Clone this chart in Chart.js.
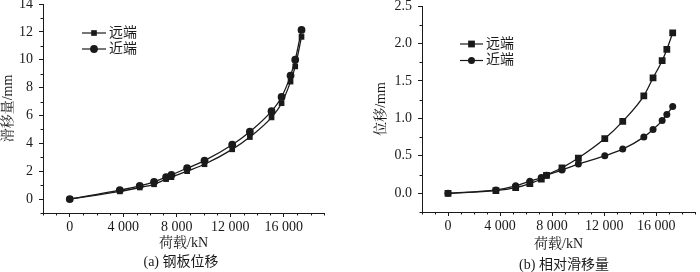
<!DOCTYPE html>
<html>
<head>
<meta charset="utf-8">
<script src="https://cdn.jsdelivr.net/npm/chart.js@4/dist/chart.umd.min.js"></script>
<style>
  html, body { margin: 0; padding: 0; background: #fff; }
  #wrap { position: relative; width: 700px; height: 272px; }
  canvas { position: absolute; top: 0; }
  #chartA { left: 0; }
  #chartB { left: 350px; }
</style>
</head>
<body>
<div id="wrap">
  <canvas id="chartA" width="350" height="272"></canvas>
  <canvas id="chartB" width="350" height="272"></canvas>
</div>
<script>
// (a) 钢板位移
const loadA = [0, 3740, 5230, 6300, 7200, 7600, 8770, 10070, 12140, 13460, 15080, 15830, 16500, 16850, 17320];
const farA  = [0, 0.55, 0.83, 1.06, 1.43, 1.57, 2.00, 2.50, 3.57, 4.45, 5.86, 6.88, 8.43, 9.52, 11.64];
const nearA = [0, 0.64, 0.95, 1.24, 1.57, 1.74, 2.21, 2.76, 3.90, 4.83, 6.31, 7.33, 8.86, 10.00, 12.14];

// (b) 相对滑移量
const loadB = [0, 3680, 5200, 6290, 7170, 7570, 8760, 10020, 12050, 13430, 15050, 15760, 16460, 16820, 17270];
const farB  = [0, 0.035, 0.075, 0.13, 0.19, 0.24, 0.34, 0.47, 0.73, 0.96, 1.30, 1.54, 1.77, 1.92, 2.14];
const nearB = [0, 0.045, 0.10, 0.16, 0.21, 0.24, 0.31, 0.39, 0.50, 0.59, 0.75, 0.85, 0.97, 1.05, 1.16];

const seriesNames = ['远端', '近端'];

const xTicks = [0, 4000, 8000, 12000, 16000];
const xTickLabels = ['0', '4 000', '8 000', '12 000', '16 000'];
const yTicksA = [0, 2, 4, 6, 8, 10, 12, 14];
const yTickLabelsA = ['0', '2', '4', '6', '8', '10', '12', '14'];
const yTicksB = [0, 0.5, 1.0, 1.5, 2.0, 2.5];
const yTickLabelsB = ['0.0', '0.5', '1.0', '1.5', '2.0', '2.5'];

const ink = '#1a1a1a';
Chart.defaults.font.family = "'Liberation Serif', 'Noto Serif CJK SC', 'Noto Sans CJK SC', serif";
Chart.defaults.color = ink;

// short ticks between the labelled ones
const minorTicks = {
  id: 'minorTicks',
  afterDraw(chart, args, opts) {
    const ctx = chart.ctx;
    const xs = chart.scales.x, ys = chart.scales.y;
    ctx.save();
    ctx.strokeStyle = ink;
    ctx.lineWidth = 1;
    ctx.beginPath();
    for (let v = xs.min; v <= xs.max + 1e-9; v += opts.xStep) {
      if (xTicks.includes(v)) continue;
      const px = Math.round(xs.getPixelForValue(v)) + 0.5;
      ctx.moveTo(px, ys.bottom);
      ctx.lineTo(px, ys.bottom + opts.len);
    }
    for (let v = ys.min; v <= ys.max + 1e-9; v += opts.yStep) {
      const r = Math.round(v * 100) / 100;
      if (opts.yMajor.includes(r)) continue;
      const py = Math.round(ys.getPixelForValue(r)) + 0.5;
      ctx.moveTo(xs.left, py);
      ctx.lineTo(xs.left - opts.len, py);
    }
    ctx.stroke();
    ctx.restore();
  }
};

// legend drawn inside the plot
const innerLegend = {
  id: 'innerLegend',
  afterDraw(chart, args, opts) {
    const ctx = chart.ctx;
    chart.data.datasets.forEach((ds, i) => {
      const y = opts.y + i * opts.gap;
      ctx.save();
      ctx.strokeStyle = ink;
      ctx.fillStyle = ink;
      ctx.lineWidth = 1.2;
      ctx.beginPath();
      ctx.moveTo(opts.x, y);
      ctx.lineTo(opts.x + opts.len, y);
      ctx.stroke();
      const cx = opts.x + opts.len / 2;
      ctx.beginPath();
      if (ds.pointStyle === 'rect') {
        const h = ds.pointRadius * Math.SQRT1_2;
        ctx.rect(cx - h, y - h, 2 * h, 2 * h);
      } else {
        ctx.arc(cx, y, ds.pointRadius, 0, Math.PI * 2);
      }
      ctx.fill();
      ctx.font = "14px 'Liberation Serif', 'Noto Sans CJK SC', serif";
      ctx.textBaseline = 'middle';
      ctx.fillText(ds.label, opts.x + opts.len + 3, y);
      ctx.restore();
    });
  }
};

const caption = {
  id: 'caption',
  afterDraw(chart, args, opts) {
    const ctx = chart.ctx;
    ctx.save();
    ctx.fillStyle = ink;
    ctx.font = "14px 'Liberation Serif', 'Noto Sans CJK SC', serif";
    ctx.textAlign = 'center';
    ctx.textBaseline = 'middle';
    ctx.fillText(opts.text, opts.x, opts.y);
    ctx.restore();
  }
};

function makeChart(id, cfg) {
  const pts = (xs, ys) => xs.map((x, i) => ({x: x, y: ys[i]}));
  const ds = (label, data, style, r) => ({
    label: label,
    data: data,
    borderColor: ink,
    backgroundColor: ink,
    borderWidth: 1.3,
    pointStyle: style,
    pointRadius: r,
    pointBorderWidth: 0,
    pointBackgroundColor: ink,
    cubicInterpolationMode: 'monotone',
    fill: false
  });
  return new Chart(document.getElementById(id), {
    type: 'line',
    data: {
      datasets: [
        ds(seriesNames[0], pts(cfg.load, cfg.far), 'rect', cfg.rSq),
        ds(seriesNames[1], pts(cfg.load, cfg.near), 'circle', cfg.rCi)
      ]
    },
    options: {
      responsive: false,
      animation: false,
      devicePixelRatio: 1,
      layout: { padding: cfg.padding },
      plugins: {
        legend: { display: false },
        tooltip: { enabled: false },
        minorTicks: { xStep: 1000, yStep: cfg.yMinorStep, yMajor: cfg.yTicks, len: 2.5 },
        innerLegend: cfg.legend,
        caption: cfg.caption
      },
      scales: {
        x: {
          type: 'linear',
          min: -2000,
          max: 19000,
          afterBuildTicks: s => { s.ticks = xTicks.map(v => ({value: v})); },
          afterFit: s => { s.height = cfg.xHeight; s.paddingLeft = 0; s.paddingRight = 0; },
          ticks: {
            autoSkip: false,
            maxRotation: 0,
            padding: 2,
            font: { size: 14 },
            callback: (v, i) => xTickLabels[i]
          },
          grid: { drawOnChartArea: false, drawTicks: true, tickLength: 4, color: ink },
          border: { display: true, color: ink, width: 1 },
          title: { display: true, text: '荷载/kN', font: { size: 14 }, padding: { top: 0, bottom: 0 } }
        },
        y: {
          min: cfg.yMin,
          max: cfg.yMax,
          afterBuildTicks: s => { s.ticks = cfg.yTicks.map(v => ({value: v})); },
          afterFit: s => { s.width = cfg.yWidth; s.paddingTop = 0; s.paddingBottom = 0; },
          ticks: {
            autoSkip: false,
            padding: 6,
            font: { size: 14 },
            callback: (v, i) => cfg.yLabels[i]
          },
          grid: { drawOnChartArea: false, drawTicks: true, tickLength: 4, color: ink },
          border: { display: true, color: ink, width: 1 },
          title: { display: true, text: cfg.yTitle, font: { size: 14 }, padding: { top: 0, bottom: 0 } }
        }
      }
    },
    plugins: [minorTicks, innerLegend, caption]
  });
}

makeChart('chartA', {
  load: loadA, far: farA, near: nearA,
  rSq: 4.0, rCi: 3.9,
  yMin: -1, yMax: 14, yTicks: yTicksA, yLabels: yTickLabelsA, yMinorStep: 1,
  yTitle: '滑移量/mm',
  padding: { left: 0, top: 4, right: 26, bottom: 20 },
  yWidth: 43, xHeight: 39,
  legend: { x: 82, y: 33, gap: 16, len: 24 },
  caption: { text: '(a) 钢板位移', x: 181, y: 262 }
});

makeChart('chartB', {
  load: loadB, far: farB, near: nearB,
  rSq: 4.8, rCi: 3.5,
  yMin: -0.25, yMax: 2.5, yTicks: yTicksB, yLabels: yTickLabelsB, yMinorStep: 0.25,
  yTitle: '位移/mm',
  padding: { left: 23, top: 6, right: 1, bottom: 19 },
  yWidth: 49, xHeight: 41,
  legend: { x: 110, y: 44, gap: 16.5, len: 23 },
  caption: { text: '(b) 相对滑移量', x: 214, y: 265 }
});
</script>
</body>
</html>
